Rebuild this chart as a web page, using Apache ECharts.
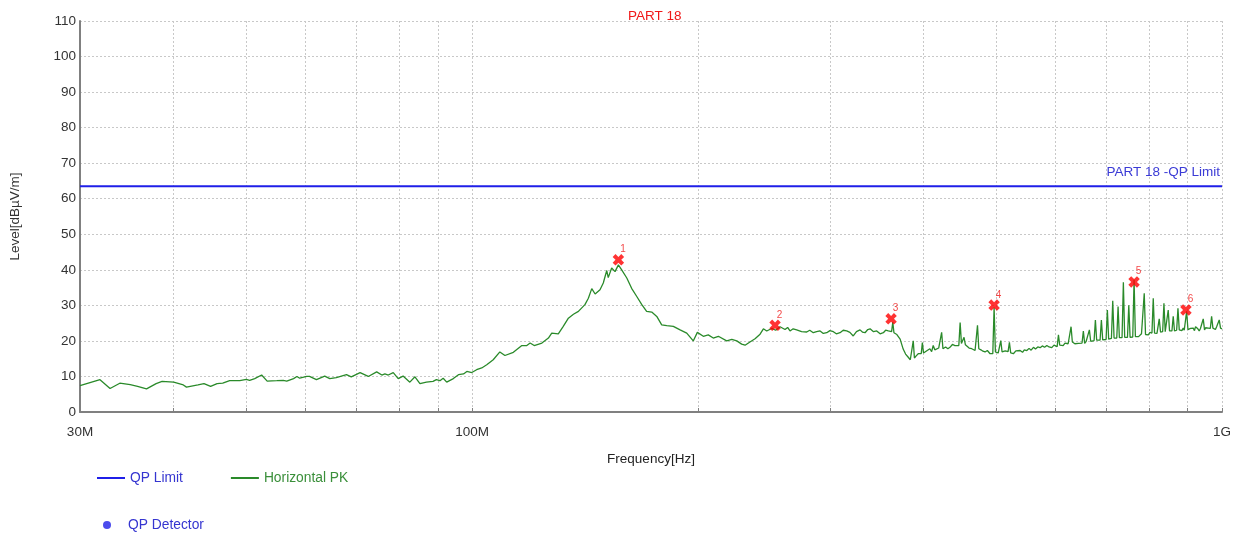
<!DOCTYPE html>
<html><head><meta charset="utf-8">
<script src="https://cdn.jsdelivr.net/npm/echarts@6/dist/echarts.min.js"></script>
<style>html,body{margin:0;padding:0;background:#fff}#c{width:1239px;height:538px}</style>
</head><body><div id="c"></div>
<script>
// Horizontal PK trace: [frequency MHz, level dBµV/m]
const pkLow = [[30,7.4],[31.9,9.1],[32.9,6.6],[33.9,8.1],[35.0,7.7],[35.8,7.2],[36.8,6.5],[37.9,8.0],[38.6,8.6],[40.0,8.4],[41.2,7.6],[41.6,7.0],[43.1,7.6],[43.9,8.0],[44.8,7.2],[45.7,8.0],[46.5,8.1],[47.5,8.8],[49.0,8.8],[50.0,9.2],[50.5,8.9],[51.3,9.4],[52.4,10.4],[53.3,8.7],[54.9,8.8],[56.0,8.9],[56.6,8.7],[57.8,9.4],[58.4,10.0],[58.9,9.5],[60.2,10.0],[60.7,10.0],[62.0,9.1],[63.6,10.1],[64.6,9.4],[65.9,9.7],[68.0,10.5],[69.0,9.9],[70.9,11.1],[72.7,10.0],[74.6,11.3],[75.8,10.4],[76.5,10.7],[77.3,10.4],[78.5,11.1],[79.7,9.4],[80.9,10.1],[82.6,8.4],[83.9,9.9],[85.2,8.0],[86.9,8.4],[88.7,8.6],[89.6,9.1],[90.6,8.8],[91.5,9.5],[92.5,8.4],[94.4,9.4],[95.9,10.5],[97.4,10.7],[98.4,11.4],[99.9,11.1],[101.4,11.9],[103.0,12.4],[104.6,13.3],[106.7,14.7],[108.9,16.9],[110.6,15.9],[113.5,16.8],[116.5,18.7],[118.3,18.7],[119.5,19.4],[121.0,18.7],[123.9,19.4],[126.4,20.8],[127.7,22.2],[130.3,22.0],[132.3,24.1],[134.4,26.4],[136.5,27.5],[138.6,28.3],[141.4,30.2],[142.9,32.0],[144.4,34.7],[145.9,33.2],[148.1,34.4],[149.6,36.3],[151.2,39.8],[151.9,37.8],[153.5,40.5],[155.1,39.5],[156.7,41.4],[158.3,40.0],[160.8,37.7],[163.2,34.8],[165.8,32.5],[168.3,30.3],[170.9,28.3],[173.6,28.1],[176.3,26.9],[179.0,24.5],[181.8,24.3],[185.5,24.1],[189.4,23.1],[193.3,22.2],[197.2,20.0],[199.7,22.4],[203.4,21.3],[206.5,21.7],[209.7,20.8],[213.0,21.3]];
const pkMid = [[218.5,20.0],[222.0,20.4],[225.4,20.0],[228.8,19.1],[231.2,18.8],[234.7,19.7],[238.4,20.6],[242.1,21.9],[244.6,23.4],[247.1,22.8],[250.9,23.5],[254.0,23.0],[257.4,24.0],[261.4,23.2],[263.5,23.8],[265.4,22.8],[268.0,23.4],[270.9,23.1],[275.0,22.6],[279.4,22.5],[282.0,23.0],[285.1,22.3],[288.0,22.6],[291.1,22.8],[294.0,22.1],[297.1,22.3],[300.0,22.9],[303.2,22.6],[306.0,22.0],[309.5,22.3],[312.5,23.0],[315.9,22.8],[319.0,22.4],[322.3,21.4],[325.5,22.6],[329.1,23.1],[331.5,22.5],[334.2,22.3],[337.0,23.2],[339.4,23.4],[343.0,22.6],[346.4,22.8],[350.0,22.0],[353.5,22.3],[356.0,23.0],[359.0,22.8],[362.6,22.6],[363.9,25.3],[365.2,22.3],[368.5,21.8],[372.2,20.5],[375.7,17.7],[378.5,16.3],[381.6,15.4],[384.0,14.7],[386.1,15.0],[387.5,20.0],[388.9,15.2],[391.0,15.8],[393.5,16.4],[395.5,16.0],[397.1,16.4],[398.5,19.5],[399.9,16.6],[401.6,16.8],[404.5,17.3],[407.8,17.8],[410.0,17.0],[412.0,18.7],[414.0,17.5],[416.3,17.3],[419.0,18.0],[421.1,17.5],[422.8,22.4],[424.5,17.8],[428.0,18.3],[431.0,17.8],[433.7,18.2],[437.0,19.0],[440.4,18.7],[443.0,19.2],[445.7,18.7],[447.5,25.2],[449.3,19.3],[451.0,19.6],[452.9,21.0],[454.8,18.9],[456.7,18.7],[460.0,18.0],[463.8,17.8],[466.0,17.9],[468.5,17.3],[470.1,17.3],[472.0,24.4],[473.9,17.8],[477.0,17.5],[480.0,17.1],[483.1,16.9],[486.5,17.3],[490.6,16.4],[494.7,16.4],[496.7,29.4],[498.7,16.9],[501.0,17.4],[503.0,16.6],[505.0,17.0],[507.0,20.1],[509.0,16.9],[511.0,16.7],[514.0,17.2],[518.5,17.0],[520.6,19.6],[522.7,16.6],[525.0,16.9],[527.0,16.4],[531.0,17.2],[534.0,16.8],[538.0,17.3],[542.0,16.8],[545.0,17.5],[549.2,17.3],[553.0,17.9],[556.5,17.4],[560.5,18.2],[564.0,17.7],[568.0,18.3],[572.1,18.1],[576.0,18.6],[580.0,18.2],[584.0,18.7],[588.0,18.3],[592.9,18.1],[597.0,18.8]];
const pkHigh = [[600.0,18.4],[602.8,18.4],[605.2,21.7],[607.6,18.8],[611.0,19.1],[614.0,18.7],[617.5,19.4],[620.9,19.8],[623.5,19.2],[626.6,19.5],[629.1,24.0],[631.6,19.7],[633.6,19.8],[636.5,19.2],[640.0,19.0],[643.4,19.3],[647.0,19.8],[650.7,19.4],[653.3,22.8],[655.9,19.3],[659.0,19.9],[662.8,19.8],[665.5,23.1],[668.2,19.9],[671.5,20.3],[675.2,20.1],[677.9,25.9],[680.6,20.2],[684.0,19.8],[687.7,20.2],[690.5,25.9],[693.3,20.3],[697.0,20.8],[700.5,20.4],[703.3,28.7],[706.1,20.5],[709.0,20.2],[712.1,20.7],[715.0,31.3],[717.9,20.8],[721.0,21.2],[723.9,20.8],[726.8,29.7],[729.7,20.9],[732.5,20.5],[735.7,20.9],[738.7,36.5],[741.7,21.0],[745.0,21.4],[748.1,21.0],[751.1,30.0],[754.1,21.0],[757.0,21.5],[760.3,21.1],[763.4,37.2],[766.5,21.2],[770.0,21.6],[774.0,21.2],[777.8,21.7],[781.0,22.0],[784.5,21.7],[787.6,33.4],[790.7,21.8],[794.0,22.2],[797.5,21.7],[801.5,22.4],[804.0,22.0],[806.5,22.2],[809.7,32.0],[812.9,22.2],[816.4,22.6],[819.0,22.1],[821.4,22.4],[824.7,26.2],[828.0,22.5],[830.5,22.9],[833.4,22.6],[836.7,30.6],[840.0,22.6],[842.5,22.2],[844.4,22.7],[847.8,28.7],[851.2,22.8],[854.5,23.1],[857.5,22.8],[860.9,26.9],[864.3,22.8],[867.0,22.4],[870.0,23.0],[873.5,29.2],[877.0,23.1],[880.5,23.5],[884.0,22.9],[887.8,23.6],[890.5,23.0],[893.5,23.3],[897.1,28.3],[900.7,23.2],[904.0,22.8],[908.0,23.5],[912.0,23.9],[915.5,23.6],[919.0,22.9],[922.0,24.0],[925.0,24.0],[928.5,23.4],[932.4,22.8],[936.0,23.5],[940.2,23.3],[944.0,26.2],[947.8,23.1],[951.0,23.7],[955.0,23.2],[958.6,23.6],[961.5,24.1],[964.7,23.5],[968.6,26.9],[972.5,23.6],[976.0,23.9],[980.0,23.2],[983.6,24.0],[987.5,23.8],[991.5,25.9],[995.5,23.6],[998.9,23.6],[1000,23.4]];
const limitFreq = [30, 1000];
const limitLevel = [63.5, 63.5];
const markerFreq = [156.7, 253.5, 362.0, 496.7, 763.4, 895.2];
const markerLevel = [42.8, 24.4, 26.2, 30.1, 36.6, 28.7];
const markerNo = ['1', '2', '3', '4', '5', '6'];
const xTickValues = [30,40,50,60,70,80,90,100,200,300,400,500,600,700,800,900,1000];
const xLabelValues = [30, 100, 1000];
const xLabelText = ['30M', '100M', '1G'];

const FONT = '"Liberation Sans", Arial, sans-serif';
const BLUE = '#1f1fe8';
const GREEN = '#2a8a2a';
const RED = '#ff0000';

const pkData = pkLow.concat(pkMid, pkHigh);
const limitData = limitFreq.map((f, i) => i === limitFreq.length - 1 ? {
  value: [f, limitLevel[i]], symbol: 'circle', symbolSize: 0.1,
  label: { show: true, position: 'top', align: 'right', distance: 7, offset: [-2, 0],
    formatter: 'PART 18 -QP Limit', color: '#3b3bd6', fontSize: 13.5, fontFamily: FONT }
} : [f, limitLevel[i]]);
const markerData = markerFreq.map((f, i) => [f, markerLevel[i], markerNo[i]]);

const chart = echarts.init(document.getElementById('c'), null, { renderer: 'canvas' });
chart.setOption({
  animation: false,
  backgroundColor: '#ffffff',
  title: { text: 'PART 18', left: 623, top: 4,
    textStyle: { color: '#f01818', fontSize: 13.5, fontWeight: 'normal', fontFamily: FONT } },
  grid: { left: 80, right: 17, top: 21, bottom: 126, containLabel: false },
  legend: [
    { data: [{ name: 'QP Limit', textStyle: { color: '#3535d0' } }, { name: 'Horizontal PK', textStyle: { color: '#3a8f3a' } }],
      left: 92, top: 466, icon: 'rect', itemWidth: 28, itemHeight: 2, itemGap: 48,
      textStyle: { fontSize: 13.8, fontFamily: FONT } },
    { data: [{ name: 'QP Detector', textStyle: { color: '#3535d0' } }],
      left: 98, top: 513, icon: 'circle', itemWidth: 8, itemHeight: 8,
      textStyle: { fontSize: 13.8, fontFamily: FONT, padding: [0, 0, 0, 12] } }
  ],
  xAxis: {
    type: 'log', logBase: 10, min: 30, max: 1000,
    name: 'Frequency[Hz]', nameLocation: 'middle', nameGap: 40,
    nameTextStyle: { color: '#222', fontSize: 13.5, fontFamily: FONT },
    axisLine: { show: true, lineStyle: { color: '#808080', width: 2 } },
    axisTick: { show: true, inside: true, length: 4, customValues: xTickValues, lineStyle: { color: '#808080' } },
    axisLabel: { customValues: xLabelValues, margin: 13, color: '#333', fontSize: 13.5, fontFamily: FONT,
      formatter: v => { const i = xLabelValues.indexOf(Math.round(v)); return i >= 0 ? xLabelText[i] : ''; } },
    splitLine: { show: true, lineStyle: { color: '#c8c8c8', type: [2, 2], width: 1 } }
  },
  yAxis: {
    type: 'value', min: 0, max: 110, interval: 10,
    name: 'Level[dBµV/m]', nameLocation: 'middle', nameGap: 58,
    nameTextStyle: { color: '#333', fontSize: 13.5, fontFamily: FONT },
    axisLine: { show: true, lineStyle: { color: '#808080', width: 2 } },
    axisTick: { show: false },
    axisLabel: { margin: 4, color: '#333', fontSize: 13.5, fontFamily: FONT },
    splitLine: { show: true, lineStyle: { color: '#c8c8c8', type: [2, 2], width: 1 } }
  },
  series: [
    { name: 'QP Limit', type: 'line', data: limitData, showSymbol: true, symbol: 'none',
      color: BLUE, lineStyle: { color: BLUE, width: 2 }, z: 3 },
    { name: 'Horizontal PK', type: 'line', data: pkData, showSymbol: false, symbol: 'none',
      color: GREEN, lineStyle: { color: GREEN, width: 1.3 }, z: 2 },
    { name: 'QP Detector', type: 'scatter', data: [], color: BLUE, symbol: 'circle' },
    { name: 'Markers', type: 'scatter', data: markerData, z: 5,
      symbol: 'path://M0,2.5 L2.5,0 L5,2.5 L7.5,0 L10,2.5 L7.5,5 L10,7.5 L7.5,10 L5,7.5 L2.5,10 L0,7.5 L2.5,5 Z',
      symbolSize: 11.5, itemStyle: { color: RED },
      label: { show: true, position: [7.5, -9.5], color: '#f01818', fontSize: 10, fontFamily: FONT,
        formatter: p => p.value[2] } }
  ]
});
</script></body></html>
